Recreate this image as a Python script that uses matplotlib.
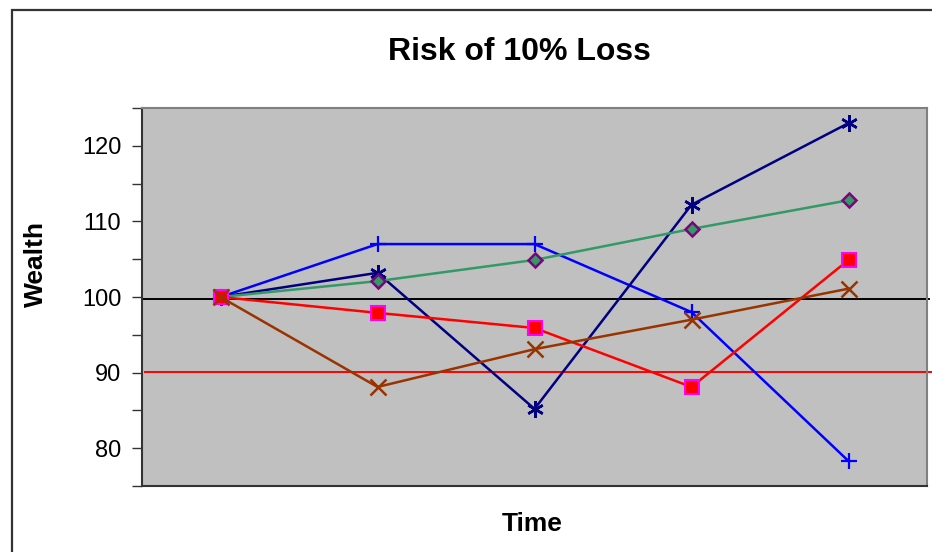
import numpy as np
import matplotlib.pyplot as plt
from matplotlib.patches import Rectangle
from matplotlib.ticker import MultipleLocator, NullFormatter

plt.rcParams['font.family'] = ['Liberation Sans', 'DejaVu Sans']

# five time steps, wealth of each simulated path
periods = [0.5, 1.5, 2.5, 3.5, 4.5]
path_plus = [100, 107, 107, 98, 78.3]
path_star = [100, 103.2, 85.2, 112.2, 123]
path_diamond = [100, 102.1, 104.9, 109, 112.8]
path_square = [100, 97.9, 95.9, 88.1, 104.9]
path_cross = [100, 88.1, 93.1, 97, 101.1]

start_level = 99.8
loss_level = 90.1

fig = plt.figure(figsize=(9.32, 5.52), dpi=100)
fig.patch.set_facecolor('white')

# chart border
fig.patches.append(Rectangle((12 / 932, -0.05), 1.0, 1 - 10 / 552 + 0.05,
                             transform=fig.transFigure, fill=False,
                             edgecolor='#333333', linewidth=1.6))

ax = fig.add_axes([142 / 932, 1 - 486 / 552, 785 / 932, 378 / 552])
ax.set_facecolor('#c0c0c0')
ax.set_xlim(0, 5)
ax.set_ylim(75, 125)

ax.axhline(start_level, xmin=0, xmax=1.003, color='black', lw=1.4, clip_on=False, zorder=2)
ax.plot([0.02, 5.1], [loss_level, loss_level], color='#ff0000', lw=1.4, clip_on=False, zorder=2)

ax.plot(periods, path_plus, color='#0000ff', lw=1.8, marker='+', ms=11, mew=1.6, zorder=3)
ax.plot(periods, path_star, color='#000080', lw=1.8, marker=(6, 2, 0), ms=12, mew=1.8, zorder=3)
ax.plot(periods, path_diamond, color='#339966', lw=1.8, marker='D', ms=7.5,
        mfc='#339966', mec='#800080', mew=1.8, zorder=3)
ax.plot(periods, path_square, color='#ff0000', lw=1.8, marker='s', ms=10,
        mfc='#ff0000', mec='#ff00ff', mew=1.5, zorder=3)
ax.plot(periods, path_cross, color='#993300', lw=1.8, marker='x', ms=11, mew=1.8, zorder=3)

ax.yaxis.set_major_locator(MultipleLocator(10))
ax.yaxis.set_minor_locator(MultipleLocator(5))
ax.yaxis.set_minor_formatter(NullFormatter())
ax.tick_params(axis='y', which='both', direction='out', length=7, width=1,
               color='#333333', labelsize=17, pad=8)
ax.tick_params(axis='x', which='both', bottom=False, labelbottom=False)

for side in ['top', 'right']:
    ax.spines[side].set_color('#808080')
    ax.spines[side].set_linewidth(1.5)
for side in ['left', 'bottom']:
    ax.spines[side].set_color('#333333')
    ax.spines[side].set_linewidth(1.5)

fig.text(519 / 932, 1 - 52 / 552, 'Risk of 10% Loss', ha='center', va='center',
         fontsize=23, fontweight='bold')
fig.text(532 / 932, 1 - 524 / 552, 'Time', ha='center', va='center',
         fontsize=19, fontweight='bold')
fig.text(36 / 932, 1 - 264 / 552, 'Wealth', ha='center', va='center',
         rotation=90, fontsize=19, fontweight='bold')

fig.savefig('out.png', dpi=100)
